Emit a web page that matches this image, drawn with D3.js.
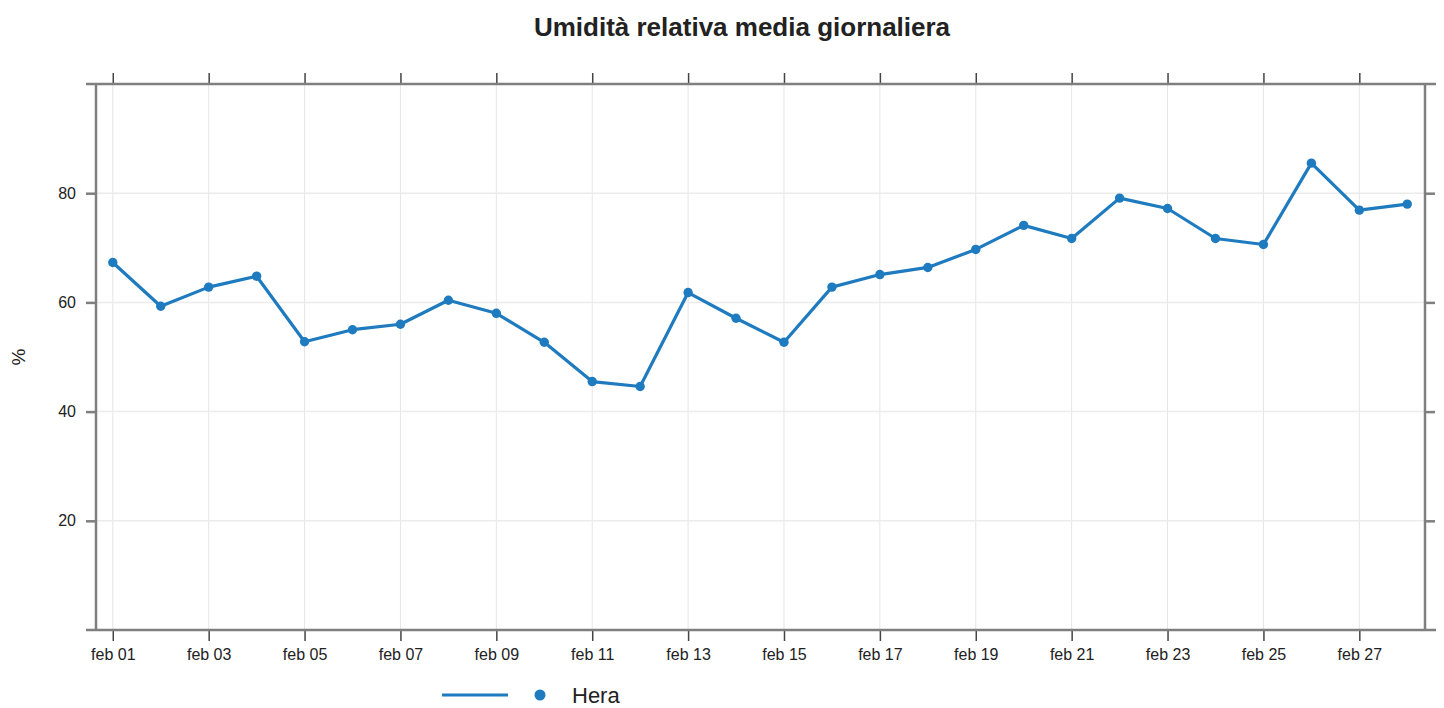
<!DOCTYPE html>
<html>
<head>
<meta charset="utf-8">
<script src="https://cdn.jsdelivr.net/npm/d3@7"></script>
<style>
  body { margin: 0; background: #fff; }
  text { font-family: "Liberation Sans", Arial, sans-serif; fill: #222; }
</style>
</head>
<body>
<div id="vis"></div>
<script>
// daily mean relative humidity, february
const days = d3.range(1, 29)
const humidity = [67.3, 59.3, 62.8, 64.8, 52.8, 55.0, 56.0, 60.4, 58.0, 52.7,
                  45.5, 44.6, 61.8, 57.1, 52.7, 62.8, 65.1, 66.4, 69.7, 74.1,
                  71.7, 79.1, 77.2, 71.7, 70.6, 85.5, 76.9, 78.0]
const yTicks = [20, 40, 60, 80]
const xTickDays = [1, 3, 5, 7, 9, 11, 13, 15, 17, 19, 21, 23, 25, 27]
const seriesName = 'Hera'

;(function() {
  const svg_width = 1444,
        svg_height = 708,
        left = 96, right = 1425, top = 84, bottom = 630,
        blue = '#1f7bbf',
        frame = '#7f7f7f'

  const svg = d3.select('#vis').append('svg')
    .attr('width', svg_width)
    .attr('height', svg_height)

  const x = d3.scaleLinear().domain([0.65, 28.37]).range([left, right])
  const y = d3.scaleLinear().domain([0, 100]).range([bottom, top])

  // grid
  svg.append('g').selectAll('line').data(xTickDays).join('line')
    .attr('x1', d => x(d)).attr('x2', d => x(d))
    .attr('y1', top).attr('y2', bottom)
    .attr('stroke', '#e6e6e6').attr('stroke-width', 1)
  svg.append('g').selectAll('line').data(yTicks).join('line')
    .attr('x1', left).attr('x2', right)
    .attr('y1', d => y(d)).attr('y2', d => y(d))
    .attr('stroke', '#ececec').attr('stroke-width', 1.5)

  // axes (lattice style: ticks on all four sides)
  const xb = svg.append('g').attr('transform', `translate(0,${bottom})`)
    .call(d3.axisBottom(x).tickValues(xTickDays).tickSize(11).tickPadding(8)
      .tickFormat(d => 'feb ' + d3.format('02d')(d)))
  const xt = svg.append('g').attr('transform', `translate(0,${top})`)
    .call(d3.axisTop(x).tickValues(xTickDays).tickSize(11).tickFormat(''))
  const yl = svg.append('g').attr('transform', `translate(${left},0)`)
    .call(d3.axisLeft(y).tickValues(yTicks).tickSize(10).tickPadding(10))
  const yr = svg.append('g').attr('transform', `translate(${right},0)`)
    .call(d3.axisRight(y).tickValues(yTicks).tickSize(10).tickFormat(''))

  ;[xb, xt, yl, yr].forEach(g => {
    g.select('.domain').remove()
    g.selectAll('.tick line').attr('stroke', '#444').attr('stroke-width', 1.5)
    g.selectAll('.tick text').style('font-size', '16px').attr('fill', '#222')
  })
  yl.selectAll('.tick line').attr('stroke', frame).attr('stroke-width', 2.5)
  yr.selectAll('.tick line').attr('stroke', frame).attr('stroke-width', 2.5)

  // frame
  const fr = svg.append('g').attr('stroke', frame).attr('stroke-width', 2.5)
  fr.append('line').attr('x1', left - 10).attr('x2', right + 11).attr('y1', top).attr('y2', top)
  fr.append('line').attr('x1', left - 10).attr('x2', right + 11).attr('y1', bottom).attr('y2', bottom)
  fr.append('line').attr('x1', left).attr('x2', left).attr('y1', top).attr('y2', bottom)
  fr.append('line').attr('x1', right).attr('x2', right).attr('y1', top).attr('y2', bottom)

  // series
  const line = d3.line().x((d, i) => x(days[i])).y(d => y(d))
  svg.append('path').datum(humidity)
    .attr('d', line)
    .attr('fill', 'none')
    .attr('stroke', blue)
    .attr('stroke-width', 3.2)
    .attr('stroke-linejoin', 'round')
  svg.append('g').selectAll('circle').data(humidity).join('circle')
    .attr('cx', (d, i) => x(days[i]))
    .attr('cy', d => y(d))
    .attr('r', 4.7)
    .attr('fill', blue)

  // title and labels
  svg.append('text')
    .attr('x', 742).attr('y', 36)
    .attr('text-anchor', 'middle')
    .style('font-size', '26px').style('font-weight', 'bold')
    .text('Umidità relativa media giornaliera')

  svg.append('text')
    .attr('transform', 'translate(25,357) rotate(-90)')
    .attr('text-anchor', 'middle')
    .style('font-size', '19px')
    .text('%')

  // legend
  const lg = svg.append('g')
  lg.append('line').attr('x1', 442).attr('x2', 508).attr('y1', 695).attr('y2', 695)
    .attr('stroke', blue).attr('stroke-width', 3.2)
  lg.append('circle').attr('cx', 540).attr('cy', 695).attr('r', 5.5).attr('fill', blue)
  lg.append('text').attr('x', 572).attr('y', 703)
    .style('font-size', '22px')
    .text(seriesName)
}())
</script>
</body>
</html>
